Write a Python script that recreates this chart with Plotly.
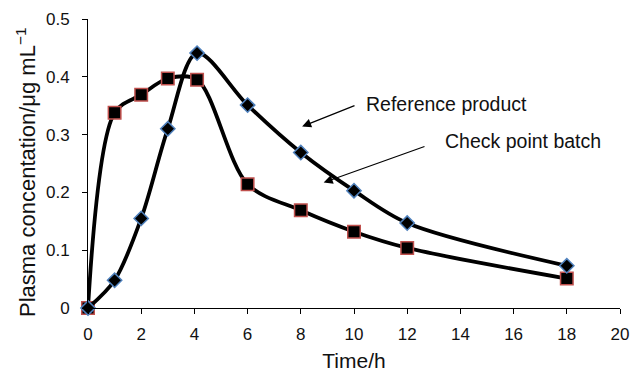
import plotly.graph_objects as go

time_ref = [0, 1, 2, 3, 4.1, 6, 8, 10, 12, 18]
conc_ref = [0, 0.048, 0.155, 0.31, 0.441, 0.351, 0.269, 0.203, 0.147, 0.073]
time_chk = [0, 1, 2, 3, 4.1, 6, 8, 10, 12, 18]
conc_chk = [0, 0.338, 0.369, 0.397, 0.395, 0.214, 0.169, 0.132, 0.104, 0.051]

x_ticks = list(range(0, 21, 2))
y_ticks = [0, 0.1, 0.2, 0.3, 0.4, 0.5]
y_labels = ["0", "0.1", "0.2", "0.3", "0.4", "0.5"]

FONT = "Liberation Sans, Arial, sans-serif"
L, R, T, B = 88, 10, 19, 64
W, H = 630 - L - R, 372 - T - B

fig = go.Figure()
fig.add_trace(go.Scatter(
    x=time_chk, y=conc_chk, mode="lines+markers",
    line=dict(color="black", width=3.8, shape="spline", smoothing=0.9),
    marker=dict(symbol="square", size=12.5, color="black",
                line=dict(color="#c0504d", width=1.5)),
    cliponaxis=False, name="Check point batch", showlegend=False))
fig.add_trace(go.Scatter(
    x=time_ref, y=conc_ref, mode="lines+markers",
    line=dict(color="black", width=3.8, shape="spline", smoothing=0.9),
    marker=dict(symbol="diamond", size=11, color="black",
                line=dict(color="#4f81bd", width=1.5)),
    cliponaxis=False, name="Reference product", showlegend=False))


def to_px(xv, yv):
    return L + xv / 20 * W, T + (1 - yv / 0.5) * H


def to_paper(xp, yp):
    return (xp - L) / W, 1 - (yp - T) / H


anns = []
for (hx, hy), (tx, ty) in [((8.05, 0.314), (356, 105)), ((8.86, 0.217), (426, 146))]:
    px, py = to_px(hx, hy)
    anns.append(dict(x=hx, y=hy, xref="x", yref="y", ax=tx - px, ay=ty - py,
                     text="", showarrow=True, arrowhead=2, arrowsize=1.5,
                     arrowwidth=1.2, arrowcolor="black"))
for txt, (xp, yp) in [("Reference product", (364, 104)), ("Check point batch", (443, 141))]:
    xa, ya = to_paper(xp, yp)
    anns.append(dict(x=xa, y=ya, xref="paper", yref="paper", text=txt,
                     showarrow=False, xanchor="left", yanchor="middle",
                     font=dict(size=19.5, family=FONT, color="#111")))
# y-axis title as rotated text placed at the reference position
ytx, yty = to_paper(26, 172)
anns.append(dict(x=ytx, y=yty, xref="paper", yref="paper",
                 text="Plasma concentation/μg mL<sup>−1</sup>", textangle=-90,
                 showarrow=False, xanchor="center", yanchor="middle",
                 font=dict(size=22, family=FONT, color="#111")))

fig.update_layout(
    width=630, height=372,
    margin=dict(l=L, r=R, t=T, b=B),
    plot_bgcolor="white", paper_bgcolor="white",
    font=dict(family=FONT, size=17, color="#111"),
    annotations=anns,
)

fig.update_xaxes(range=[0, 20], tickvals=x_ticks, ticks="outside", ticklen=5,
                 tickcolor="black", showline=True, linecolor="black", linewidth=1,
                 showgrid=False, zeroline=False, ticklabelstandoff=6,
                 automargin=False,
                 title=dict(text="Time/h", font=dict(size=21), standoff=11),
                 tickfont=dict(size=17))
fig.update_yaxes(range=[0, 0.5], tickvals=y_ticks, ticktext=y_labels,
                 ticks="outside", ticklen=5, tickcolor="black", showline=True,
                 linecolor="black", linewidth=1, showgrid=False, zeroline=False,
                 ticklabelstandoff=9, automargin=False,
                 tickfont=dict(size=17))

fig.write_html("out.html")
